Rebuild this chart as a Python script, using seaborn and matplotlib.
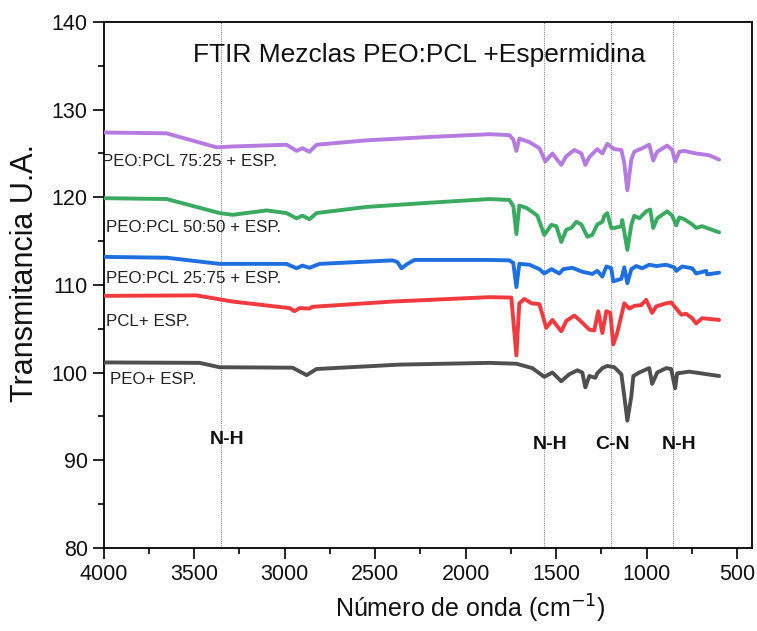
import matplotlib
matplotlib.use("Agg")
import matplotlib.pyplot as plt
import seaborn as sns
import pandas as pd
from matplotlib.ticker import MultipleLocator

sns.set_style("ticks")
plt.rcParams['font.family'] = ['Liberation Sans', 'DejaVu Sans']

# ---- data (wavenumber cm^-1, transmittance U.A.) ----
wn_75 = [4000, 3652, 3376, 3288, 2990, 2935, 2902, 2863, 2824, 2548, 2184, 1869, 1759, 1737, 1720, 1704,
         1648, 1593, 1560, 1521, 1472, 1444, 1400, 1361, 1339, 1317, 1273, 1245, 1218, 1179, 1140, 1124,
         1107, 1085, 1069, 1025, 986, 964, 942, 887, 859, 843, 820, 793, 727, 655, 600]
t_75 = [127.4, 127.3, 125.7, 125.8, 126.0, 125.3, 125.6, 125.2, 126.0, 126.5, 126.9, 127.2, 127.1, 126.6, 125.3, 126.7,
        126.3, 125.6, 124.1, 125.0, 123.7, 124.7, 125.4, 125.0, 123.7, 124.6, 125.5, 125.0, 126.1, 125.5, 125.4, 123.9,
        120.8, 124.3, 125.2, 125.6, 126.0, 124.2, 125.2, 125.9, 125.4, 124.1, 125.2, 125.3, 125.0, 124.8, 124.3]

wn_50 = [4000, 3652, 3360, 3288, 3100, 2990, 2935, 2902, 2863, 2824, 2548, 2184, 1869, 1759, 1737, 1720, 1704,
         1665, 1637, 1604, 1566, 1527, 1499, 1472, 1444, 1417, 1389, 1361, 1328, 1301, 1273, 1245, 1234, 1218,
         1196, 1179, 1140, 1135, 1107, 1085, 1069, 1041, 1003, 981, 964, 942, 887, 859, 837, 820, 793, 749, 727, 694, 600]
t_50 = [119.9, 119.8, 118.2, 118.0, 118.5, 118.2, 117.6, 117.9, 117.5, 118.2, 118.9, 119.4, 119.8, 119.7, 119.0, 115.8, 119.05,
        118.8, 118.4, 117.9, 115.7, 116.85, 116.7, 114.9, 116.3, 116.5, 117.2, 116.9, 115.5, 115.7, 116.9, 117.2, 117.9, 118.2,
        116.5, 116.5, 116.7, 117.4, 114.0, 116.85, 117.9, 117.6, 118.4, 118.6, 116.5, 117.6, 118.4, 117.9, 116.8, 117.7, 117.5, 116.9, 116.5, 116.7, 116.0]

wn_25 = [4000, 3652, 3360, 2990, 2935, 2902, 2863, 2808, 2405, 2377, 2355, 2322, 2283, 1869, 1759, 1737, 1720, 1704,
         1648, 1593, 1566, 1527, 1483, 1461, 1411, 1356, 1301, 1273, 1245, 1223, 1196, 1185, 1140, 1124, 1107, 1085,
         1058, 1025, 986, 947, 892, 848, 837, 804, 749, 727, 672, 666, 600]
t_25 = [113.2, 113.1, 112.4, 112.4, 111.9, 112.2, 111.95, 112.4, 112.8, 112.6, 111.9, 112.4, 112.85, 112.85, 112.8, 112.5, 109.75, 112.4,
        112.3, 111.8, 111.3, 111.8, 111.3, 111.8, 111.95, 111.5, 111.25, 111.6, 110.95, 112.1, 111.9, 110.4, 110.7, 112.0, 110.2, 111.8,
        112.15, 111.9, 112.3, 112.15, 112.3, 112.0, 111.6, 112.1, 111.9, 111.3, 111.6, 111.2, 111.4]

wn_pcl = [4000, 3487, 3288, 2973, 2946, 2918, 2863, 2846, 2405, 1869, 1748, 1720, 1704, 1676, 1637, 1593, 1555,
          1521, 1472, 1444, 1400, 1372, 1317, 1290, 1268, 1245, 1223, 1201, 1185, 1163, 1124, 1096, 1069, 1030,
          1003, 970, 947, 892, 865, 837, 809, 782, 749, 727, 694, 600]
t_pcl = [108.75, 108.8, 108.1, 107.35, 107.0, 107.35, 107.3, 107.5, 108.1, 108.6, 108.55, 101.95, 107.9, 108.4, 107.9, 107.8, 105.1,
         106.0, 104.7, 105.9, 106.5, 106.0, 104.9, 104.8, 107.0, 104.5, 107.0, 106.8, 103.2, 104.5, 107.9, 107.3, 107.6, 107.7,
         108.3, 106.8, 107.55, 107.9, 108.0, 107.3, 106.6, 106.7, 106.2, 105.6, 106.2, 106.0]

wn_peo = [4000, 3470, 3360, 2957, 2879, 2824, 2366, 1869, 1720, 1632, 1566, 1521, 1472, 1428, 1383, 1356, 1339,
          1317, 1284, 1273, 1245, 1218, 1179, 1140, 1124, 1107, 1085, 1074, 1041, 986, 970, 942, 892, 865, 843,
          832, 765, 600]
t_peo = [101.15, 101.1, 100.6, 100.55, 99.7, 100.4, 100.9, 101.1, 101.0, 100.5, 99.5, 100.0, 99.0, 99.8, 100.25, 100.0, 98.3,
         99.6, 99.4, 99.9, 100.5, 100.75, 100.6, 99.8, 97.3, 94.5, 97.3, 99.6, 100.0, 100.5, 98.7, 100.0, 100.5, 100.4, 98.2,
         99.9, 100.1, 99.6]

series_names = ["PEO:PCL 75:25 + ESP.", "PEO:PCL 50:50 + ESP.", "PEO:PCL 25:75 + ESP.", "PCL+ ESP.", "PEO+ ESP."]
series_wn = [wn_75, wn_50, wn_25, wn_pcl, wn_peo]
series_t = [t_75, t_50, t_25, t_pcl, t_peo]
colors = ["#B57BE0", "#3AAA60", "#1E6FE0", "#F03A3E", "#4F4F4F"]

label_pos_x = [4012, 3985, 3985, 3985, 3968]
label_pos_y = [124.1, 116.5, 110.7, 105.8, 99.2]

vlines = [3350, 1565, 1195, 855]
band_labels = ["N-H", "N-H", "C-N", "N-H"]
band_x = [3316, 1532, 1190, 820]
band_y = [92.3, 91.8, 91.8, 91.8]

title = "FTIR Mezclas PEO:PCL +Espermidina"

rows = []
for name, w, t in zip(series_names, series_wn, series_t):
    for a, b in zip(w, t):
        rows.append({"wn": a, "T": b, "serie": name})
df = pd.DataFrame(rows)

fig = plt.figure(figsize=(7.57, 6.31), dpi=100)
ax = fig.add_axes([0.137, 0.132, 0.856, 0.833])

for v in vlines:
    ax.axvline(v, color="#888888", lw=0.8, ls=(0, (1, 1)), zorder=1)

sns.lineplot(data=df, x="wn", y="T", hue="serie", palette=dict(zip(series_names, colors)),
             estimator=None, sort=True, lw=2.8, legend=False, ax=ax, zorder=3)

ax.set_xlim(4000, 420)
ax.set_ylim(80, 140)
ax.xaxis.set_major_locator(MultipleLocator(500))
ax.xaxis.set_minor_locator(MultipleLocator(250))
ax.yaxis.set_major_locator(MultipleLocator(10))
ax.yaxis.set_minor_locator(MultipleLocator(5))
ax.tick_params(which="major", direction="out", length=8, width=1.2, labelsize=15.5,
               color="black", labelcolor="#111111")
ax.tick_params(which="minor", direction="out", length=4, width=1.2, color="black")
for s in ax.spines.values():
    s.set_linewidth(1.3)
    s.set_color("black")

ax.set_xlabel("Número de onda (cm$^{-1}$)", fontsize=18, color="#111111")
ax.set_ylabel("Transmitancia U.A.", fontsize=22, color="#111111")
ax.xaxis.set_label_coords(0.565, -0.085)
ax.yaxis.set_label_coords(-0.098, 0.523)

for name, x, y in zip(series_names, label_pos_x, label_pos_y):
    ax.text(x, y, name, ha="left", va="center", fontsize=12.2, color="#222222", zorder=5)

for lab, x, y in zip(band_labels, band_x, band_y):
    ax.text(x, y, lab, ha="center", va="center", fontsize=14, fontweight="bold", color="#111111")

ax.text(2256, 136.2, title, ha="center", va="center", fontsize=19, color="#111111")

fig.savefig("out.png", dpi=100)
